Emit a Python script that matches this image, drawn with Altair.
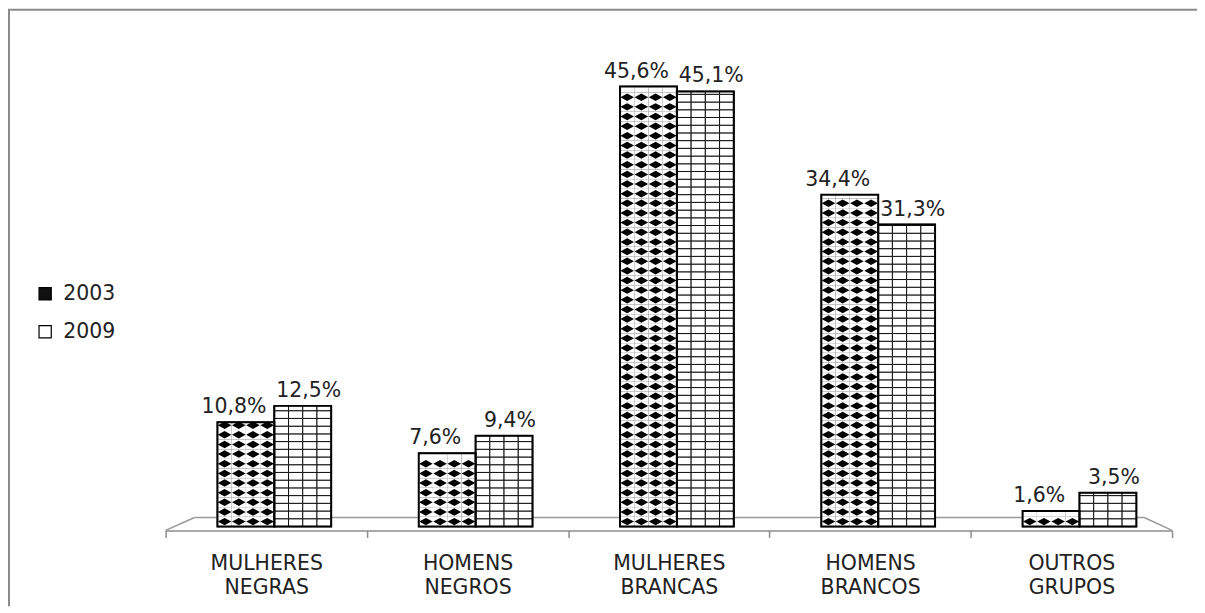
import altair as alt
import pandas as pd

categories = ["MULHERES NEGRAS", "HOMENS NEGROS", "MULHERES BRANCAS", "HOMENS BRANCOS", "OUTROS GRUPOS"]
years = ["2003", "2009"]
values_2003 = [10.8, 7.6, 45.6, 34.4, 1.6]
values_2009 = [12.5, 9.4, 45.1, 31.3, 3.5]

FONT = "DejaVu Sans"
TXT = "#222222"
FS = 20.5

# --- bar table ---
rows = []
for cat, v in zip(categories, values_2003):
    rows.append({"category": cat, "year": "2003", "value": v})
for cat, v in zip(categories, values_2009):
    rows.append({"category": cat, "year": "2009", "value": v})
bars = pd.DataFrame(rows)
bars["label"] = bars["value"].map(lambda v: f"{v:.1f}%".replace(".", ","))

# --- fill pattern built from the bar values (4 columns per bar) ---
NCOL = 4
STEP = {"2003": 1.0, "2009": 0.8}
subs = [f"{y}-{c}" for y in years for c in range(NCOL)]
cells, dots = [], []
for r in rows:
    step = STEP[r["year"]]
    for c in range(NCOL):
        k = 0
        while k * step < r["value"] - 1e-9:
            cells.append({"category": r["category"], "year": r["year"], "sub": f'{r["year"]}-{c}',
                          "y0": k * step, "y1": min((k + 1) * step, r["value"])})
            if r["year"] == "2003" and (k + 0.5) * step + 0.3 <= r["value"]:
                dots.append({"category": r["category"], "sub": f'{r["year"]}-{c}', "yc": (k + 0.5) * step})
            k += 1
cells = pd.DataFrame(cells)
dots = pd.DataFrame(dots)

W, H = 1009, 483.5
off_range = [52, 166]

xenc = alt.X("category:N", sort=categories, title="",
             scale=alt.Scale(paddingInner=0, paddingOuter=0),
             axis=alt.Axis(labelExpr="split(datum.label, ' ')", labelFont=FONT, labelFontSize=FS,
                           labelColor=TXT, labelLineHeight=24, labelPadding=16, labelAngle=0,
                           tickBand="extent", tickSize=7, tickColor="#8c8c8c", tickWidth=1.5,
                           domainColor="#8c8c8c", domainWidth=1.5, offset=4, grid=False))
yscale = alt.Scale(domain=[0, 50], nice=False)

def yenc(f):
    return alt.Y(f, scale=yscale, axis=None)

bar_base = alt.Chart(bars).mark_bar(stroke="black", strokeWidth=1.5).encode(
    x=xenc,
    xOffset=alt.XOffset("year:N", scale=alt.Scale(domain=years, range=off_range)),
    y=yenc("value:Q"),
    fill=alt.Fill("year:N", scale=alt.Scale(domain=years, range=["#111111", "#ffffff"]),
                  legend=alt.Legend(orient="none", legendX=-131, legendY=240, title=None,
                                    symbolType="square", symbolSize=150, symbolStrokeColor="black",
                                    symbolStrokeWidth=1.2, labelFont=FONT, labelFontSize=FS,
                                    labelColor=TXT, rowPadding=17, labelOffset=8)),
)

sub_scale = alt.Scale(domain=subs, range=off_range)

cells_2003 = alt.Chart(cells).transform_filter("datum.year == '2003'").mark_bar(
    fill="white", strokeWidth=0).encode(
    x=alt.X("category:N", sort=categories),
    xOffset=alt.XOffset("sub:N", scale=sub_scale),
    y=yenc("y0:Q"), y2="y1:Q")

cells_2009 = alt.Chart(cells).transform_filter("datum.year == '2009'").mark_bar(
    fill="white", stroke="#111111", strokeWidth=1).encode(
    x=alt.X("category:N", sort=categories),
    xOffset=alt.XOffset("sub:N", scale=sub_scale),
    y=yenc("y0:Q"), y2="y1:Q")

diamonds = alt.Chart(dots).mark_point(
    shape="M -1 0 L 0 -0.55 L 1 0 L 0 0.55 Z", filled=True, fill="black", opacity=1,
    size=185, strokeWidth=0).encode(
    x=alt.X("category:N", sort=categories),
    xOffset=alt.XOffset("sub:N", scale=sub_scale),
    y=yenc("yc:Q"))

outline = alt.Chart(bars).mark_bar(fillOpacity=0, stroke="black", strokeWidth=2).encode(
    x=alt.X("category:N", sort=categories),
    xOffset=alt.XOffset("year:N", scale=alt.Scale(domain=years, range=off_range)),
    y=yenc("value:Q"))

def labels(year, dx):
    return alt.Chart(bars).transform_filter(f"datum.year == '{year}'").mark_text(
        font=FONT, fontSize=FS, color=TXT, baseline="alphabetic", dy=-9, dx=dx).encode(
        x=alt.X("category:N", sort=categories),
        xOffset=alt.XOffset("year:N", scale=alt.Scale(domain=years, range=off_range)),
        y=yenc("value:Q"),
        text="label:N")

one = pd.DataFrame({"k": [0]})
frame_left = alt.Chart(one).mark_rule(color="#8a8a8a", strokeWidth=2).encode(
    x=alt.value(-157), y=alt.value(-34.5), y2=alt.value(H + 80))
frame_top = alt.Chart(one).mark_rule(color="#8a8a8a", strokeWidth=2).encode(
    x=alt.value(-158), x2=alt.value(W + 25), y=alt.value(-34.5))
floor_back = alt.Chart(one).mark_rule(color="#9a9a9a", strokeWidth=1.5).encode(
    x=alt.value(29), x2=alt.value(W - 28), y=alt.value(474.5))
floor_l = alt.Chart(one).mark_rule(color="#9a9a9a", strokeWidth=1.5).encode(
    x=alt.value(0), x2=alt.value(29), y=alt.value(H + 4), y2=alt.value(474.5))
floor_r = alt.Chart(one).mark_rule(color="#9a9a9a", strokeWidth=1.5).encode(
    x=alt.value(W - 28), x2=alt.value(W), y=alt.value(474.5), y2=alt.value(H + 4))

chart = alt.layer(
    floor_back, floor_l, floor_r,
    bar_base, cells_2003, cells_2009, diamonds, outline,
    labels("2003", -12), labels("2009", 6),
    frame_left, frame_top,
).resolve_scale(xOffset="independent").properties(
    width=W, height=H,
    padding={"left": 158, "top": 35.5, "right": 25, "bottom": 80},
    autosize=alt.AutoSizeParams(type="none"),
    background="white",
).configure_view(strokeWidth=0)

chart.save("out.html", embed_options={"renderer": "svg", "actions": False})
